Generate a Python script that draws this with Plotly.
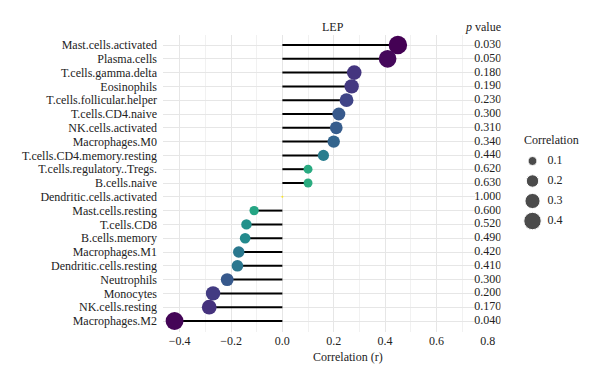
import plotly.graph_objects as go

# ---------------- data ----------------
cells = ["Mast.cells.activated", "Plasma.cells", "T.cells.gamma.delta", "Eosinophils",
         "T.cells.follicular.helper", "T.cells.CD4.naive", "NK.cells.activated",
         "Macrophages.M0", "T.cells.CD4.memory.resting", "T.cells.regulatory..Tregs.",
         "B.cells.naive", "Dendritic.cells.activated", "Mast.cells.resting", "T.cells.CD8",
         "B.cells.memory", "Macrophages.M1", "Dendritic.cells.resting", "Neutrophils",
         "Monocytes", "NK.cells.resting", "Macrophages.M2"]
corr = [0.45, 0.41, 0.28, 0.27, 0.25, 0.22, 0.21, 0.20, 0.16, 0.10, 0.10, 0.0,
        -0.11, -0.14, -0.145, -0.17, -0.175, -0.215, -0.27, -0.285, -0.42]
pvals = [0.03, 0.05, 0.18, 0.19, 0.23, 0.30, 0.31, 0.34, 0.44, 0.62, 0.63, 1.0,
         0.60, 0.52, 0.49, 0.42, 0.41, 0.30, 0.20, 0.17, 0.04]
x_ticks = [-0.4, -0.2, 0.0, 0.2, 0.4, 0.6, 0.8]
legend_vals = [0.1, 0.2, 0.3, 0.4]
pval_x = 0.8

# ---------------- geometry helpers ----------------
OFF = 8  # page body margin
W, H = 600 - OFF, 382 - OFF
L, R, T, B = 163 - OFF, 10, 35 - OFF, 50
PW, PH = W - L - R, H - T - B
U = 256.7  # pixels per unit of r


def px2x(px):
    return (px - OFF - L) / PW


def py2y(py):
    return (H - B - (py - OFF)) / PH


def size_of(v):
    return (4 + 751 * abs(v)) ** 0.5


FONT = dict(family="Times New Roman, Tinos, Liberation Serif, DejaVu Serif, serif",
            size=12, color="#222222")

x_lo, x_hi1, x_hi2 = -0.465, 0.75, 0.85
dom1 = (x_hi1 - x_lo) * U / PW
dom2 = (x_hi2 - x_lo) * U / PW

fig = go.Figure()

# lollipop stems
sx, sy = [], []
for c, r in zip(cells, corr):
    sx += [0, r, None]
    sy += [c, c, None]
fig.add_trace(go.Scatter(x=sx, y=sy, mode="lines", line=dict(color="black", width=2),
                         hoverinfo="skip", showlegend=False, xaxis="x", yaxis="y"))

# dots
fig.add_trace(go.Scatter(
    x=corr, y=cells, mode="markers", showlegend=False, xaxis="x", yaxis="y",
    marker=dict(size=[size_of(r) for r in corr], color=pvals, colorscale="Viridis",
                cmin=min(pvals), cmax=max(pvals), line=dict(width=0), opacity=1)))

# p value column
fig.add_trace(go.Scatter(
    x=[pval_x] * len(cells), y=cells, mode="text",
    text=[f"{p:.3f}" for p in pvals], textfont=FONT, textposition="middle center",
    showlegend=False, xaxis="x2", yaxis="y4", hoverinfo="skip"))

# size legend
fig.add_trace(go.Scatter(
    x=[0] * len(legend_vals), y=legend_vals, mode="markers",
    marker=dict(size=[size_of(v) for v in legend_vals], color="black"),
    showlegend=False, xaxis="x3", yaxis="y3", hoverinfo="skip"))
fig.add_trace(go.Scatter(
    x=[1] * len(legend_vals), y=legend_vals, mode="text",
    text=[f"{v:.1f}" for v in legend_vals], textposition="middle right", textfont=FONT,
    showlegend=False, xaxis="x3", yaxis="y3", hoverinfo="skip"))

n = len(cells)
row_px = (321 - 45) / (n - 1)
y_range = [n - 1 + 11 / row_px, -10 / row_px]

leg_dom_x = [px2x(522), px2x(582)]
leg_y_top, leg_y_bot = 151, 231
leg_slope = (221 - 161) / 0.3

fig.update_layout(
    width=W, height=H,
    margin=dict(l=L, r=R, t=T, b=B, autoexpand=False),
    paper_bgcolor="white", plot_bgcolor="rgba(0,0,0,0)",
    font=FONT,
    xaxis=dict(domain=[0, dom1], range=[x_lo, x_hi1], anchor="y", automargin=False,
               showticklabels=False, ticks="", zeroline=False, showline=False,
               tick0=0, dtick=0.2, showgrid=True, gridcolor="#e6e6e6", gridwidth=1.2,
               minor=dict(dtick=0.1, tick0=0, showgrid=True, gridcolor="#f1f1f1",
                          gridwidth=0.8)),
    xaxis2=dict(domain=[0, dom2], range=[x_lo, x_hi2], anchor="y4", automargin=False,
                tickvals=x_ticks, ticktext=[f"{v:.1f}".replace("-", "\u2212") for v in x_ticks],
                ticks="", showgrid=False, zeroline=False, showline=False,
                tickfont=FONT, ticklabelstandoff=0),
    yaxis=dict(domain=[0, 1], type="category", categoryorder="array", categoryarray=cells,
               tickmode="linear", tick0=0, dtick=1,
               range=y_range, anchor="x", ticks="", showgrid=True, gridcolor="#e6e6e6",
               gridwidth=1, zeroline=False, showline=False, tickfont=FONT,
               ticklabelstandoff=5, automargin=False),
    yaxis4=dict(domain=[0, 1], type="category", categoryorder="array", categoryarray=cells,
                range=y_range, anchor="x2", showgrid=False, showticklabels=False,
                zeroline=False, showline=False, ticks="", automargin=False),
    xaxis3=dict(domain=leg_dom_x, range=[-0.7, 3.3], visible=False, anchor="y3"),
    yaxis3=dict(domain=[py2y(leg_y_bot), py2y(leg_y_top)],
                range=[0.4 + (leg_y_bot - 221) / leg_slope, 0.1 - (161 - leg_y_top) / leg_slope],
                visible=False, anchor="x3"),
    annotations=[
        dict(text="LEP", x=px2x(333), y=py2y(27), xref="paper", yref="paper",
             showarrow=False, font=FONT, xanchor="center", yanchor="middle"),
        dict(text="<i>p</i> value", x=px2x(483), y=py2y(27), xref="paper", yref="paper",
             showarrow=False, font=FONT, xanchor="center", yanchor="middle"),
        dict(text="Correlation (r)", x=px2x(348), y=py2y(357), xref="paper", yref="paper",
             showarrow=False, font=FONT, xanchor="center", yanchor="middle"),
        dict(text="Correlation", x=px2x(551), y=py2y(140), xref="paper", yref="paper",
             showarrow=False, font=FONT, xanchor="center", yanchor="middle"),
    ],
)

fig.write_html("out.html")
